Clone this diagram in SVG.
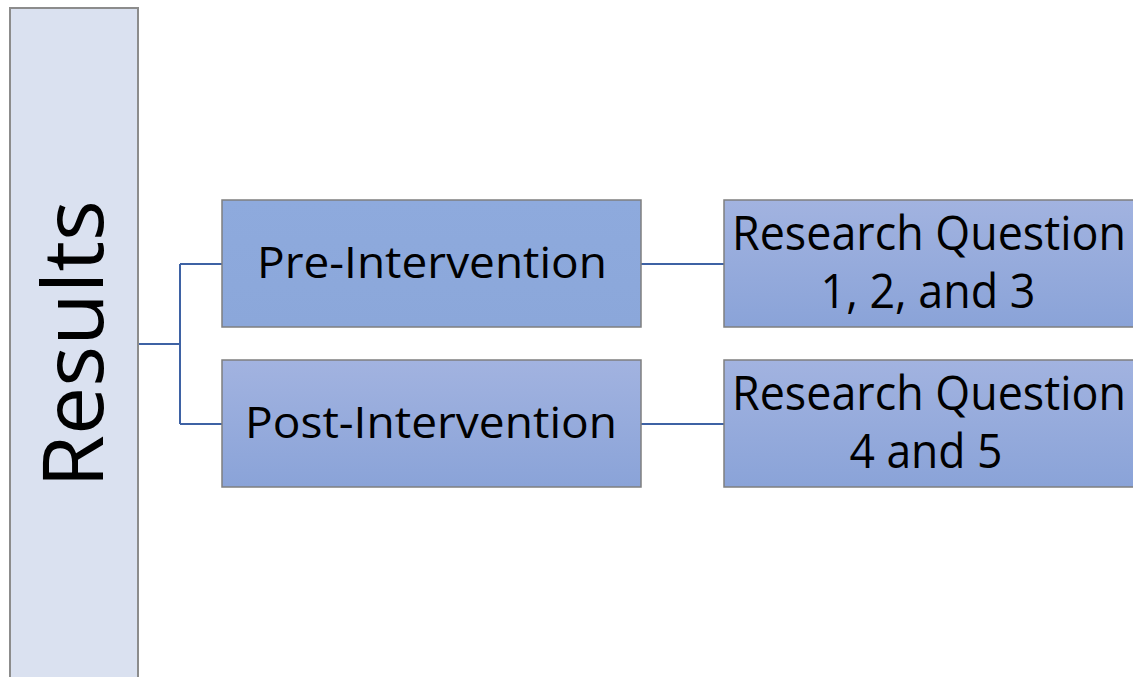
<svg xmlns="http://www.w3.org/2000/svg" width="1133" height="677" viewBox="0 0 1133 677">
<defs>
<linearGradient id="g" x1="0" y1="0" x2="0" y2="1">
<stop offset="0" stop-color="#a2b3e0"/>
<stop offset="1" stop-color="#8aa3d8"/>
</linearGradient>
<linearGradient id="g2" x1="0" y1="0" x2="0" y2="1">
<stop offset="0" stop-color="#8eaadd"/>
<stop offset="1" stop-color="#8ba7da"/>
</linearGradient>
</defs>
<style>
.box{stroke:#7f7f7f;stroke-width:1.5}
.t{font-family:"Open Sans","Liberation Sans",sans-serif;fill:#000;text-anchor:middle}
.c{fill:none;stroke:#3e62a4;stroke-width:2}
</style>
<rect width="1133" height="677" fill="#fff"/>
<g id="connectors">
<path class="c" d="M138 344 H180 M180 264 V424 M180 264 H222 M180 424 H222 M641 264 H724 M641 424 H724"/>
</g>
<g id="results">
<rect x="10" y="8" width="128" height="680" fill="#dae1f0" stroke="#8c8c8c" stroke-width="2"/>
<text class="t" transform="translate(103 344) rotate(-90)" x="0" y="0" font-size="85" textLength="288" lengthAdjust="spacingAndGlyphs">Results</text>
</g>
<g id="pre">
<rect class="box" x="222" y="200" width="419" height="127" fill="url(#g2)"/>
<text class="t" x="432" y="278" font-size="44" textLength="350" lengthAdjust="spacingAndGlyphs">Pre-Intervention</text>
</g>
<g id="post">
<rect class="box" x="222" y="360" width="419" height="127" fill="url(#g)"/>
<text class="t" x="431" y="438" font-size="44" textLength="372" lengthAdjust="spacingAndGlyphs">Post-Intervention</text>
</g>
<g id="rq123">
<rect class="box" x="724" y="200" width="420" height="127" fill="url(#g)"/>
<text class="t" x="929" y="250" font-size="47" textLength="394" lengthAdjust="spacingAndGlyphs">Research Question</text>
<text class="t" x="928" y="308" font-size="47" textLength="215" lengthAdjust="spacingAndGlyphs">1, 2, and 3</text>
</g>
<g id="rq45">
<rect class="box" x="724" y="360" width="420" height="127" fill="url(#g)"/>
<text class="t" x="929" y="410" font-size="47" textLength="394" lengthAdjust="spacingAndGlyphs">Research Question</text>
<text class="t" x="926" y="468" font-size="47" textLength="153" lengthAdjust="spacingAndGlyphs">4 and 5</text>
</g>
</svg>
